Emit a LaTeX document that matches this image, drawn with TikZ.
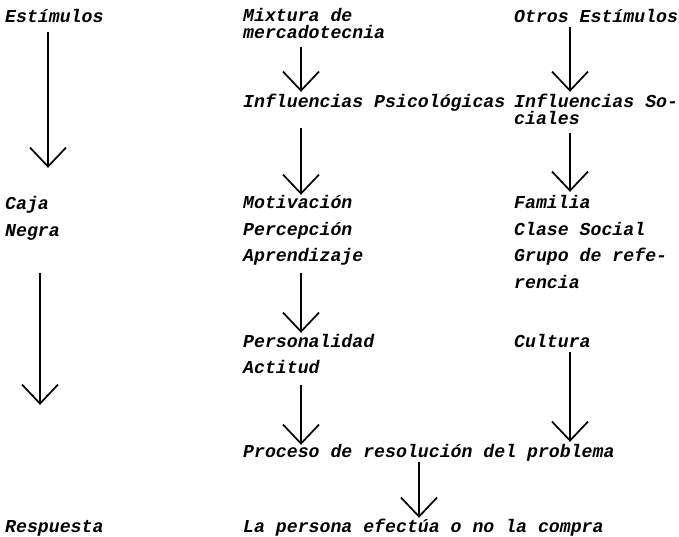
\documentclass[tikz,border=0pt]{standalone}
\usepackage{fontspec}
\setmainfont{Liberation Mono}
\usetikzlibrary{arrows.meta}
\tikzset{
  lbl/.style={anchor=base west, inner sep=0pt, text height=11pt, text depth=4pt,
    font=\fontsize{18.2pt}{20pt}\selectfont\bfseries\itshape},
  arr/.style={line width=1.7pt, -{Straight Barb[length=19pt,width=36pt]}},
}
\begin{document}
\begin{tikzpicture}[x=1pt,y=-1pt]
\useasboundingbox (0,0) rectangle (679,536);
% column positions of the arrows
\coordinate (xL1) at (48,0);
\coordinate (xL2) at (40,0);
\coordinate (xM) at (301,0);
\coordinate (xR) at (570,0);
\coordinate (xB) at (419,0);
% texts
\node[lbl] (est) at (5,22) {Estímulos};
\node[lbl] (mix1) at (243,21) {Mixtura de};
\node[lbl] (mix2) at (243,38) {mercadotecnia};
\node[lbl] (otros) at (514,22) {Otros Estímulos};
\node[lbl] (infp) at (243,107) {Influencias Psicológicas};
\node[lbl] (infs1) at (514,107) {Influencias So-};
\node[lbl] (infs2) at (514,124) {ciales};
\node[lbl] (caja) at (5,209) {Caja};
\node[lbl] (negra) at (5,236) {Negra};
\node[lbl] (mot) at (243,208) {Motivación};
\node[lbl] (perc) at (243,235) {Percepción};
\node[lbl] (apr) at (243,261) {Aprendizaje};
\node[lbl] (fam) at (514,208) {Familia};
\node[lbl] (clase) at (514,235) {Clase Social};
\node[lbl] (grupo) at (514,261) {Grupo de refe-};
\node[lbl] (rencia) at (514,288) {rencia};
\node[lbl] (pers) at (243,347) {Personalidad};
\node[lbl] (act) at (243,373) {Actitud};
\node[lbl] (cult) at (514,347) {Cultura};
\node[lbl] (proc) at (243,457) {Proceso de resolución del problema};
\node[lbl] (resp) at (5,532) {Respuesta};
\node[lbl] (lap) at (243,532) {La persona efectúa o no la compra};
% arrows
\draw[arr, shorten <=6pt, shorten >=30pt] (est.south -| xL1) -- (caja.north -| xL1);
\draw[arr, shorten <=33pt, shorten >=116pt] (negra.south -| xL2) -- (resp.north -| xL2);
\draw[arr, shorten <=5pt, shorten >=4pt] (mix2.south -| xM) -- (infp.north -| xM);
\draw[arr, shorten <=17pt, shorten >=2pt] (infp.south -| xM) -- (mot.north -| xM);
\draw[arr, shorten <=8pt, shorten >=3pt] (apr.south -| xM) -- (pers.north -| xM);
\draw[arr, shorten <=8pt, shorten >=1pt] (act.south -| xM) -- (proc.north -| xM);
\draw[arr, shorten <=1pt, shorten >=4pt] (otros.south -| xR) -- (infs1.north -| xR);
\draw[arr, shorten <=5pt, shorten >=5pt] (infs2.south -| xR) -- (fam.north -| xR);
\draw[arr, shorten <=1pt, shorten >=4pt] (cult.south -| xR) -- (proc.north -| xR);
\draw[arr, shorten <=1pt, shorten >=3pt] (proc.south -| xB) -- (lap.north -| xB);
\end{tikzpicture}
\end{document}
